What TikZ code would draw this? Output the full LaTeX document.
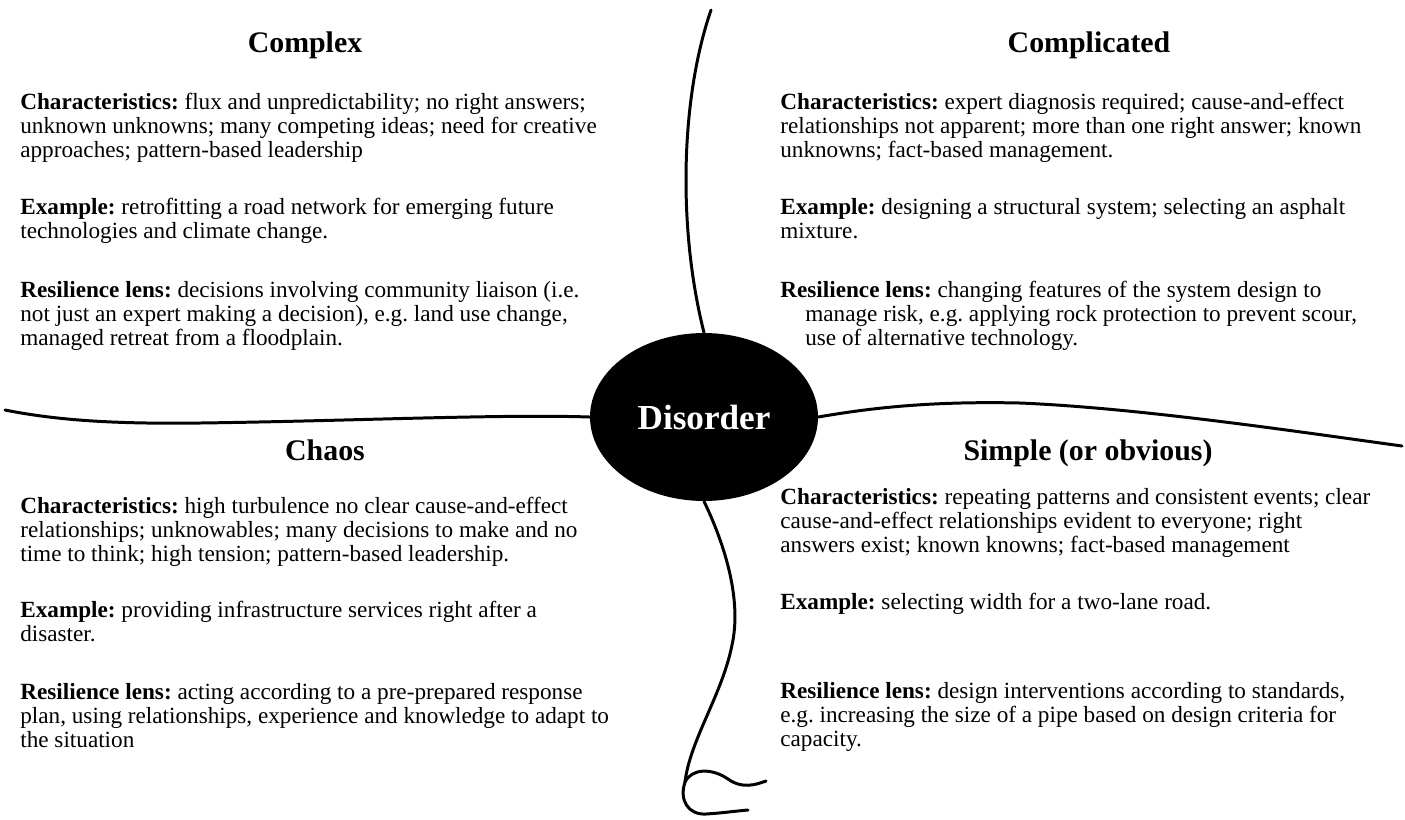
\documentclass[tikz,border=0pt]{standalone}
\usepackage{fontspec}
\setmainfont{Liberation Serif}
\usetikzlibrary{shapes.geometric}

\begin{document}
\begin{tikzpicture}[
    x=0.02cm, y=-0.02cm,
    % Títulos dos quadrantes
    titulo/.style={
        anchor=base,
        inner sep=0pt,
        font=\fontsize{17}{20}\selectfont\bfseries
    },
    % Parágrafos de texto (posicionados pela linha de base da última linha)
    texto/.style={
        anchor=base west,
        inner sep=0pt,
        align=left,
        font=\fontsize{13.2}{13.66}\selectfont\frenchspacing
    },
    % Nó central
    centro/.style={
        ellipse,
        fill=black,
        text=white,
        inner sep=0pt,
        minimum width=4.56cm,
        minimum height=3.36cm,
        font=\fontsize{20}{24}\selectfont\bfseries
    },
    linha/.style={draw, line width=1.7pt, line cap=round}
]
\useasboundingbox (0,0) rectangle (1405,819);

% ---- NÓ CENTRAL: DISORDER ----
\node[centro] (disorder) at (704,417) {};

% ---- LINHAS DIVISÓRIAS ----
\coordinate (topo)  at (711,10);
\coordinate (esq)   at (5,410);
\coordinate (dir)   at (1402,446);
\coordinate (laco)  at (685,782);
\coordinate (laco1) at (766,781);
\coordinate (laco2) at (748,810);

\draw[linha] (topo) .. controls (680,100) and (678,230) .. (disorder.north);
\draw[linha] (esq) .. controls (60,421) and (120,424) .. (200,423)
    .. controls (350,421) and (500,414) .. (disorder.west);
\draw[linha] (disorder.east) .. controls (870,408) and (930,401) .. (1020,403)
    .. controls (1140,408) and (1300,432) .. (dir);
\draw[linha] (disorder.south) .. controls (725,545) and (742,600) .. (732,645)
    .. controls (722,695) and (690,740) .. (laco);
\draw[linha] (laco) .. controls (692,768) and (712,768) .. (728,779)
    .. controls (742,789) and (755,785) .. (laco1);
\draw[linha] (laco) .. controls (679,800) and (688,815) .. (706,814)
    .. controls (722,813) and (736,811) .. (laco2);

\node[text=white, font=\fontsize{20}{24}\selectfont\bfseries] (dtxt) at (disorder.center) {Disorder};

% ---- QUADRANTE 1: COMPLEX ----
\node[titulo] (t_complex) at (305,52) {Complex};
\node[texto] (c_car) at (20,157)
    {\textbf{Characteristics:} flux and unpredictability; no right answers;\\
     unknown unknowns; many competing ideas; need for creative\\
     approaches; pattern-based leadership};
\node[texto] (c_ex) at (20,238)
    {\textbf{Example:} retrofitting a road network for emerging future\\
     technologies and climate change.};
\node[texto] (c_res) at (20,345)
    {\textbf{Resilience lens:} decisions involving community liaison (i.e.\\
     not just an expert making a decision), e.g. land use change,\\
     managed retreat from a floodplain.};

% ---- QUADRANTE 2: COMPLICATED ----
\node[titulo] (t_compl) at (1089,52) {Complicated};
\node[texto] (p_car) at (780,157)
    {\textbf{Characteristics:} expert diagnosis required; cause-and-effect\\
     relationships not apparent; more than one right answer; known\\
     unknowns; fact-based management.};
\node[texto] (p_ex) at (780,238)
    {\textbf{Example:} designing a structural system; selecting an asphalt\\
     mixture.};
\node[texto] (p_res) at (780,345)
    {\textbf{Resilience lens:} changing features of the system design to\\
     \hspace*{0.5cm}manage risk, e.g. applying rock protection to prevent scour,\\
     \hspace*{0.5cm}use of alternative technology.};

% ---- QUADRANTE 3: CHAOS ----
\node[titulo] (t_chaos) at (325,460) {Chaos};
\node[texto] (h_car) at (20,561)
    {\textbf{Characteristics:} high turbulence no clear cause-and-effect\\
     relationships; unknowables; many decisions to make and no\\
     time to think; high tension; pattern-based leadership.};
\node[texto] (h_ex) at (20,641)
    {\textbf{Example:} providing infrastructure services right after a\\
     disaster.};
\node[texto] (h_res) at (20,747)
    {\textbf{Resilience lens:} acting according to a pre-prepared response\\
     plan, using relationships, experience and knowledge to adapt to\\
     the situation};

% ---- QUADRANTE 4: SIMPLE ----
\node[titulo] (t_simple) at (1088,460) {Simple (or obvious)};
\node[texto] (s_car) at (780,552)
    {\textbf{Characteristics:} repeating patterns and consistent events; clear\\
     cause-and-effect relationships evident to everyone; right\\
     answers exist; known knowns; fact-based management};
\node[texto] (s_ex) at (780,609)
    {\textbf{Example:} selecting width for a two-lane road.};
\node[texto] (s_res) at (780,746)
    {\textbf{Resilience lens:} design interventions according to standards,\\
     e.g. increasing the size of a pipe based on design criteria for\\
     capacity.};

\end{tikzpicture}
\end{document}
